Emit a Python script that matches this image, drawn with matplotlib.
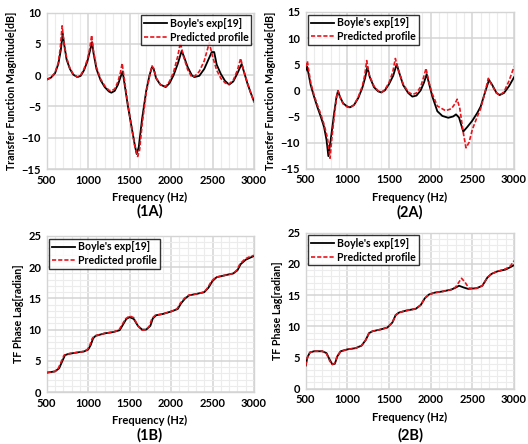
import matplotlib
matplotlib.use("Agg")
import matplotlib.pyplot as plt
from matplotlib.ticker import MultipleLocator

plt.rcParams['font.family'] = ['Lato', 'DejaVu Sans']
plt.rcParams['font.weight'] = 'bold'

# ---- Panel 1A: transfer function magnitude ----
f1a_exp = [500, 550, 600, 640, 670, 693, 710, 740, 780, 820, 870, 910, 950, 990, 1020, 1047, 1065, 1100,
           1150, 1200, 1250, 1280, 1320, 1360, 1390, 1416, 1440, 1480, 1520, 1560, 1585, 1610, 1650, 1700,
           1740, 1770, 1790, 1820, 1870, 1935, 1980, 2030, 2080, 2128, 2160, 2200, 2250, 2280, 2340, 2400,
           2450, 2490, 2520, 2550, 2600, 2650, 2700, 2750, 2800, 2851, 2880, 2920, 2960, 3000]
m1a_exp = [-0.7, -0.4, 0.3, 1.8, 4.0, 6.7, 5.0, 2.5, 1.0, 0.1, -0.3, -0.1, 0.8, 2.2, 3.8, 5.3, 3.5, 1.0,
           -0.8, -1.9, -2.6, -2.8, -2.5, -1.5, -0.3, 0.6, -1.5, -5.0, -8.0, -11.0, -12.6, -11.5, -7.0, -2.5,
           0.0, 1.3, 1.0, -0.5, -1.5, -1.9, -1.3, 0.0, 1.8, 3.9, 2.8, 1.3, 0.0, -0.3, -0.1, 1.0,
           2.5, 3.7, 3.7, 1.7, 0.2, -0.9, -1.5, -1.0, 0.3, 1.8, 0.5, -1.3, -2.8, -4.2]
f1a_pred = [500, 550, 600, 640, 665, 686, 705, 740, 780, 820, 870, 910, 950, 990, 1020, 1042, 1060, 1100,
            1150, 1200, 1250, 1280, 1320, 1360, 1390, 1410, 1435, 1480, 1520, 1560, 1597, 1620, 1650, 1700,
            1740, 1770, 1790, 1820, 1870, 1935, 1980, 2030, 2080, 2112, 2150, 2200, 2250, 2290, 2340, 2400,
            2440, 2461, 2500, 2550, 2600, 2650, 2690, 2750, 2800, 2839, 2870, 2920, 2960, 3000]
m1a_pred = [-0.7, -0.4, 0.4, 2.0, 4.5, 7.9, 5.5, 2.8, 1.1, 0.2, -0.3, 0.0, 1.0, 2.5, 4.3, 6.4, 4.2, 1.3,
            -0.6, -1.7, -2.4, -2.5, -2.2, -1.0, 0.5, 1.9, -0.5, -4.8, -8.0, -11.2, -13.0, -12.0, -8.0, -2.8,
            -0.2, 1.5, 1.1, -0.4, -1.5, -1.8, -1.0, 0.5, 3.0, 5.2, 3.0, 0.9, -0.3, -0.1, 0.6, 2.3,
            4.2, 5.2, 3.0, 0.8, -0.5, -1.2, -1.5, -0.8, 0.8, 2.7, 1.0, -1.2, -2.8, -4.3]

# ---- Panel 2A ----
f2a_exp = [500, 515, 530, 560, 600, 640, 680, 720, 750, 772, 800, 840, 870, 888, 910, 950, 1000, 1032,
           1080, 1130, 1180, 1215, 1240, 1270, 1320, 1370, 1408, 1450, 1500, 1550, 1592, 1620, 1670, 1730,
           1780, 1830, 1880, 1920, 1952, 1985, 2020, 2080, 2140, 2211, 2270, 2304, 2340, 2391, 2440, 2500,
           2560, 2600, 2650, 2700, 2740, 2790, 2828, 2880, 2940, 3000]
m2a_exp = [3.8, 4.6, 3.5, 1.0, -1.2, -3.2, -5.0, -7.0, -9.5, -12.6, -9.5, -4.5, -1.2, -0.1, -1.2, -2.5, -3.1, -3.25,
           -2.8, -1.5, 0.5, 2.5, 4.5, 2.5, 0.6, -0.2, -0.4, 0.0, 1.2, 2.8, 5.0, 3.5, 1.0, -0.5,
           -1.2, -1.0, 0.0, 1.5, 3.1, 1.0, -1.2, -4.0, -4.9, -5.25, -5.0, -4.6, -5.2, -7.9, -7.0, -5.8,
           -4.3, -3.1, -0.5, 2.0, 1.0, -0.5, -0.9, -0.5, 0.8, 2.5]
f2a_pred = [500, 520, 535, 560, 600, 640, 680, 720, 760, 792, 815, 850, 875, 888, 910, 950, 1000, 1032,
            1080, 1130, 1180, 1210, 1232, 1260, 1320, 1370, 1408, 1450, 1500, 1545, 1576, 1610, 1670, 1730,
            1780, 1830, 1880, 1915, 1944, 1980, 2020, 2080, 2180, 2250, 2290, 2318, 2350, 2390, 2424, 2460,
            2500, 2560, 2600, 2650, 2692, 2740, 2790, 2830, 2880, 2940, 3000]
m2a_pred = [4.5, 5.6, 4.0, 1.5, -0.9, -2.8, -4.5, -6.5, -9.0, -13.0, -9.0, -4.0, -1.0, -0.1, -1.2, -2.6, -3.2, -3.3,
            -2.8, -1.3, 0.8, 3.0, 5.7, 3.0, 0.8, -0.1, -0.4, 0.1, 1.5, 3.5, 6.1, 4.0, 1.2, -0.3,
            -0.8, -0.5, 0.7, 2.5, 4.2, 1.5, -0.7, -3.0, -3.9, -3.5, -2.6, -1.7, -3.5, -8.0, -11.0, -10.0,
            -7.5, -5.0, -3.5, -0.5, 2.3, 0.8, -0.5, -0.9, -0.3, 1.8, 4.5]

# ---- Panel 1B: phase lag ----
f1b_exp = [500, 600, 650, 690, 720, 760, 850, 950, 1000, 1030, 1060, 1090, 1200, 1300, 1380, 1420, 1460,
           1500, 1550, 1600, 1650, 1700, 1750, 1780, 1820, 1900, 2000, 2080, 2120, 2170, 2220, 2300, 2400,
           2450, 2500, 2550, 2650, 2750, 2800, 2840, 2900, 2950, 3000]
p1b_exp = [3.1, 3.3, 3.8, 5.0, 5.9, 6.1, 6.3, 6.5, 6.8, 7.5, 8.6, 9.0, 9.4, 9.6, 9.9, 10.8, 11.7,
           12.0, 11.7, 10.6, 10.0, 10.0, 10.6, 11.8, 12.3, 12.5, 12.9, 13.3, 14.2, 15.0, 15.5, 15.7, 16.0,
           16.7, 17.8, 18.4, 18.7, 19.0, 19.5, 20.5, 21.2, 21.5, 21.8]
f1b_pred = [500, 600, 640, 680, 710, 750, 850, 950, 990, 1020, 1050, 1080, 1200, 1300, 1370, 1410, 1450,
            1500, 1550, 1600, 1650, 1700, 1740, 1770, 1810, 1900, 2000, 2070, 2110, 2160, 2210, 2300, 2400,
            2440, 2490, 2540, 2650, 2750, 2790, 2830, 2890, 2950, 3000]
p1b_pred = [3.1, 3.3, 3.8, 5.0, 5.9, 6.1, 6.3, 6.5, 6.8, 7.5, 8.6, 9.0, 9.4, 9.6, 9.9, 10.8, 11.7,
            12.2, 11.9, 10.6, 9.9, 10.0, 10.6, 11.8, 12.3, 12.5, 12.9, 13.3, 14.2, 15.0, 15.5, 15.7, 16.0,
            16.7, 17.8, 18.4, 18.7, 19.0, 19.5, 20.5, 21.3, 21.7, 21.9]

# ---- Panel 2B ----
f2b_exp = [500, 520, 550, 600, 700, 750, 790, 820, 850, 880, 920, 1000, 1100, 1170, 1220, 1260, 1300, 1400,
           1480, 1540, 1580, 1620, 1700, 1820, 1880, 1930, 1980, 2050, 2150, 2250, 2300, 2340, 2400, 2450,
           2550, 2620, 2680, 2730, 2800, 2900, 2960, 3000]
p2b_exp = [3.7, 5.0, 5.8, 6.0, 6.0, 5.7, 4.6, 3.9, 4.0, 5.2, 6.0, 6.3, 6.5, 6.9, 7.8, 8.9, 9.2, 9.5,
           9.8, 10.6, 11.8, 12.2, 12.5, 12.8, 13.4, 14.5, 15.1, 15.4, 15.6, 15.9, 16.2, 16.5, 16.2, 16.0,
           16.1, 16.5, 17.8, 18.4, 18.8, 19.1, 19.5, 19.8]
f2b_pred = [500, 520, 550, 600, 700, 750, 790, 820, 850, 880, 920, 1000, 1100, 1170, 1220, 1260, 1300, 1400,
            1480, 1540, 1580, 1620, 1700, 1820, 1880, 1930, 1980, 2050, 2150, 2250, 2300, 2340, 2370, 2410,
            2460, 2550, 2620, 2680, 2730, 2800, 2900, 2960, 3000]
p2b_pred = [3.7, 5.0, 5.8, 6.0, 6.0, 5.6, 4.4, 3.9, 4.1, 5.3, 6.0, 6.3, 6.5, 6.9, 7.8, 8.9, 9.2, 9.5,
            9.8, 10.6, 11.8, 12.2, 12.5, 12.8, 13.4, 14.5, 15.1, 15.4, 15.6, 15.9, 16.3, 17.1, 17.7, 17.1,
            16.1, 16.1, 16.5, 17.8, 18.4, 18.8, 19.2, 19.7, 20.5]

xticks = [500, 1000, 1500, 2000, 2500, 3000]
series_labels = ["Boyle's exp[19]", "Predicted profile"]
panel_labels = ["(1A)", "(2A)", "(1B)", "(2B)"]

W, H = 528, 444
fig = plt.figure(figsize=(W / 100, H / 100), dpi=100)

def px_axes(l, t, r, b):
    return fig.add_axes([l / W, 1 - b / H, (r - l) / W, (b - t) / H])

axes = [px_axes(46.7, 12.7, 254, 169), px_axes(305.7, 12, 514, 168.7),
        px_axes(46.7, 236, 254, 392), px_axes(305.7, 232.7, 514, 388.7)]

data = [(f1a_exp, m1a_exp, f1a_pred, m1a_pred),
        (f2a_exp, m2a_exp, f2a_pred, m2a_pred),
        (f1b_exp, p1b_exp, f1b_pred, p1b_pred),
        (f2b_exp, p2b_exp, f2b_pred, p2b_pred)]
ylims = [(-15, 10), (-15, 15), (0, 25), (0, 25)]
ylabels = ["Transfer Function Magnitude[dB]", "Transfer Function Magnitude[dB]",
           "TF Phase Lag[radian]", "TF Phase Lag[radian]"]
legend_locs = ["upper right", "upper left", "upper left", "upper left"]
label_y = [211, 212, 435, 435]
xlabel_y = [197, 197, 420, 417]
centers = [150, 410, 150, 410]

for i, ax in enumerate(axes):
    fe, ve, fp, vp = data[i]
    ax.plot(fe, ve, color='black', lw=1.3, label=series_labels[0], zorder=3)
    ax.plot(fp, vp, color='#e8141c', lw=1.2, ls=(0, (2.5, 1.2)), label=series_labels[1], zorder=4)
    ax.set_xlim(500, 3000)
    ax.set_ylim(*ylims[i])
    ax.set_xticks(xticks)
    ax.xaxis.set_minor_locator(MultipleLocator(100))
    ax.yaxis.set_major_locator(MultipleLocator(5))
    if i >= 2:
        ax.yaxis.set_minor_locator(MultipleLocator(1))
    ax.grid(which='major', color='#d4d4d4', lw=1.1)
    ax.grid(which='minor', axis='x', color='#ececec', lw=0.8)
    if i >= 2:
        ax.grid(which='minor', axis='y', color='#ececec', lw=0.8)
    ax.set_axisbelow(True)
    for s in ax.spines.values():
        s.set_color('#d4d4d4')
        s.set_linewidth(1.0)
    ax.tick_params(which='both', length=0, labelsize=8, pad=4)
    for lab in ax.get_xticklabels() + ax.get_yticklabels():
        lab.set_fontweight('bold')
    ax.set_ylabel(ylabels[i], fontsize=7.7, fontweight='bold', labelpad=3)
    leg = ax.legend(loc=legend_locs[i], fontsize=7.6, frameon=True, fancybox=False,
                    edgecolor='black', handlelength=2.2, borderpad=0.25, labelspacing=0.25,
                    handletextpad=0.3, borderaxespad=0.25)
    leg.get_frame().set_linewidth(1.0)
    for t in leg.get_texts():
        t.set_fontweight('bold')
    fig.text(centers[i] / W, 1 - xlabel_y[i] / H, "Frequency (Hz)", ha='center', va='center',
             fontsize=8, fontweight='bold')
    fig.text(centers[i] / W, 1 - label_y[i] / H, panel_labels[i], ha='center', va='center',
             fontsize=10.5, fontweight='bold')

fig.savefig("out.png", dpi=100)
